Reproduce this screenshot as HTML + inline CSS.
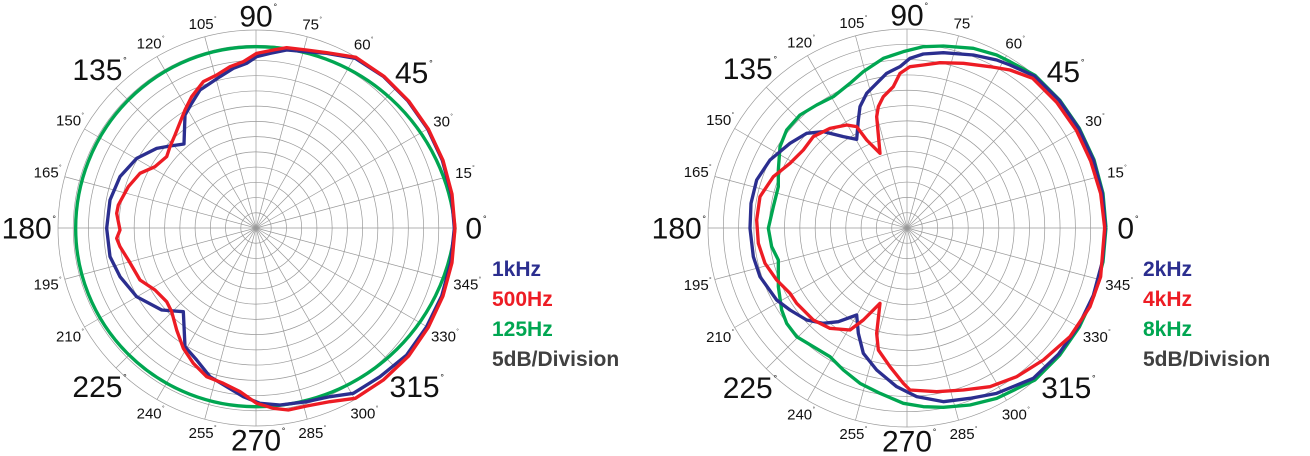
<!DOCTYPE html>
<html><head><meta charset="utf-8">
<style>
html,body{margin:0;padding:0;background:#fff;}
svg{display:block;}
.maj{font-family:"Liberation Sans",sans-serif;font-size:30px;fill:#111;}
.min{font-family:"Liberation Sans",sans-serif;font-size:15px;fill:#111;}
.leg{font-family:"Liberation Sans",sans-serif;font-size:21px;font-weight:bold;}
</style></head>
<body>
<svg id="s" width="1310" height="456" viewBox="0 0 1310 456" xmlns="http://www.w3.org/2000/svg">
<g id="grid"></g>
<g transform="translate(40,0) scale(0.33333)" fill="none" stroke-width="10" stroke-linejoin="round">
<path stroke="#00a651" d="M1245,685 A597,597 0 0 0 648,140 A541,545 0 0 0 107,685 A541,535 0 0 0 648,1220 A597,597 0 0 0 1245,685 Z"/>
<polyline stroke="#2b2e8f" points="1243,685 1234,582 1207,481 1163,387 1104,303 1030,229 946,175 860,160 800,155 740,150 690,160 650,170 620,190 580,205 540,230 510,250 480,270 455,310 435,345 432,432 390,438 350,445 290,475 240,530 210,600 200,685 210,770 240,830 290,890 365,930 430,935 435,1040 470,1080 510,1130 560,1160 610,1190 660,1210 720,1215 800,1205 870,1190 940,1180 1020,1130 1100,1065 1160,980 1205,888 1232,788 1243,685"/>
<polyline stroke="#ed1c24" points="1245,685 1236,582 1209,481 1165,387 1106,303 1032,229 948,172 860,158 800,150 740,143 700,150 650,160 610,185 570,200 530,225 490,245 455,290 435,330 405,405 390,440 380,470 345,500 300,520 265,560 235,615 230,640 235,665 240,690 230,715 240,740 265,780 300,840 345,870 380,905 395,935 410,990 430,1045 460,1090 500,1130 550,1150 600,1175 650,1210 700,1225 745,1230 800,1218 870,1205 946,1195 1030,1140 1106,1068 1165,982 1209,888 1236,788 1245,685"/>
</g>
<g transform="translate(690,0) scale(0.33333)" fill="none" stroke-width="10" stroke-linejoin="round">
<polyline stroke="#00a651" points="1248,683 1239,580 1212,479 1168,385 1109,300 1035,226 960,185 920,165 850,145 760,138 700,140 640,155 580,175 520,215 480,250 430,290 380,315 330,345 290,390 270,440 265,510 265,560 250,620 235,685 245,740 265,780 265,860 275,930 290,970 320,1010 370,1040 420,1070 460,1110 510,1150 570,1180 640,1210 700,1220 760,1222 840,1215 920,1195 1035,1140 1109,1066 1168,981 1212,887 1239,786 1248,683"/>
<polyline stroke="#2b2e8f" points="1246,683 1237,580 1210,479 1166,385 1107,300 1033,228 960,195 920,180 850,165 760,158 700,162 660,175 630,200 590,220 560,250 530,280 510,320 505,360 500,418 460,410 400,395 350,400 300,430 240,480 200,540 183,610 180,685 190,770 210,830 260,900 300,930 350,960 400,970 445,965 500,945 505,1000 520,1060 560,1110 620,1160 680,1190 760,1205 840,1195 920,1180 1030,1135 1105,1063 1165,979 1210,886 1237,785 1246,683"/>
<polyline stroke="#ed1c24" points="1244,683 1232,581 1202,483 1159,391 1100,307 1028,235 960,210 900,200 820,190 750,188 700,195 660,200 630,220 610,260 580,290 565,320 560,350 570,460 530,420 500,380 470,375 420,385 370,410 340,450 300,490 250,530 210,590 200,660 205,730 225,790 260,840 300,880 320,910 370,960 420,985 480,990 520,960 570,910 560,1000 565,1050 600,1100 640,1150 660,1170 740,1175 820,1170 900,1160 980,1130 1060,1080 1140,1010 1200,920 1232,830 1244,683"/>
</g>
<g id="labels"></g>
<text class="leg" x="492" y="276" fill="#2b2e8f">1kHz</text>
<text class="leg" x="492" y="306" fill="#ed1c24">500Hz</text>
<text class="leg" x="492" y="336" fill="#00a651">125Hz</text>
<text class="leg" x="492" y="366" fill="#404040">5dB/Division</text>
<text class="leg" x="1143" y="276" fill="#2b2e8f">2kHz</text>
<text class="leg" x="1143" y="306" fill="#ed1c24">4kHz</text>
<text class="leg" x="1143" y="336" fill="#00a651">8kHz</text>
<text class="leg" x="1143" y="366" fill="#404040">5dB/Division</text>
</svg>
<script>
var NS="http://www.w3.org/2000/svg";
var grid=document.getElementById("grid"),labs=document.getElementById("labels");
function el(p,t,a,txt){var e=document.createElementNS(NS,t);for(var k in a)e.setAttribute(k,a[k]);if(txt)e.textContent=txt;p.appendChild(e);return e;}
function chart(cx,cy,R){
 for(var i=1;i<=13;i++)el(grid,"circle",{cx:cx,cy:cy,r:R*i/13,fill:"none",stroke:"#999","stroke-width":0.7});
 for(var a=0;a<360;a+=15){var r=a*Math.PI/180;
  el(grid,"line",{x1:cx,y1:cy,x2:cx+R*Math.cos(r),y2:cy-R*Math.sin(r),stroke:"#999","stroke-width":0.7});
  var major=a%45==0, s=String(a), n=s.length;
  var w=major?n*16.5:n*8.3;
  var d=major?R+14+Math.abs(Math.cos(r))*w*0.35:R+12+Math.abs(Math.cos(r))*w*0.3;
  var x=cx+d*Math.cos(r), y=cy-d*Math.sin(r);
  el(labs,"text",{x:x,y:y+(major?10.5:5.5),"text-anchor":"middle","class":major?"maj":"min"},s);
  el(labs,"text",{x:x+w/2+(major?1:0.5),y:y+(major?-6:-3),"style":"font-family:'Liberation Sans',sans-serif;font-size:"+(major?9:6)+"px;fill:#111"},"°");
 }
}
chart(256,228,198);
chart(907,228,199);
</script>
</body></html>
